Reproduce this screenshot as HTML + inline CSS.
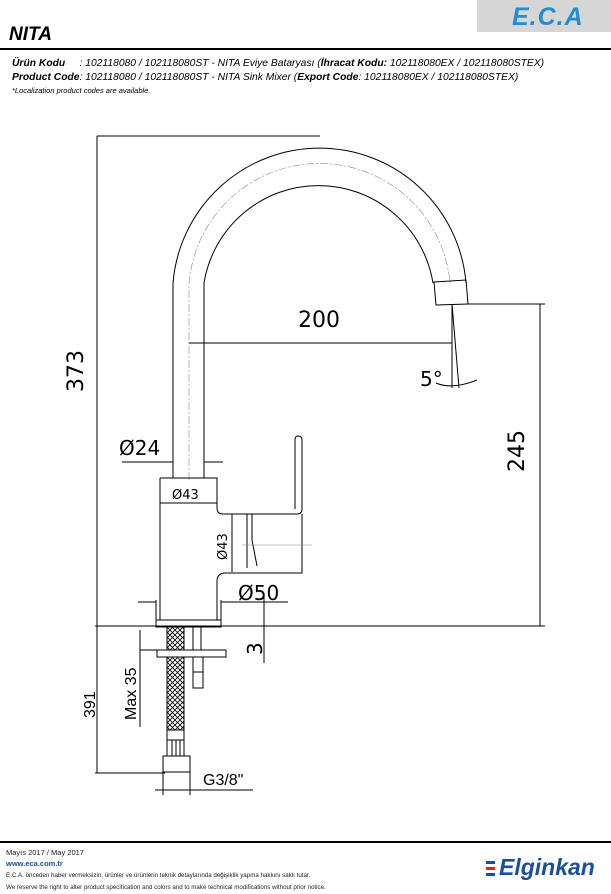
<!DOCTYPE html>
<html><head><meta charset="utf-8"><style>
body{margin:0;width:611px;height:894px;background:#fff;overflow:hidden;position:relative;font-family:"Liberation Sans",sans-serif}
.t{position:absolute;white-space:nowrap;font-style:italic}
</style></head><body>
<div style="position:absolute;left:477px;top:0;width:134px;height:32px;background:#d6d6d6"></div>
<div class="t" style="left:512px;top:3px;font-size:25px;font-weight:bold;color:#1e8fd0;letter-spacing:1px">E.C.A</div>
<div class="t" style="left:9px;top:24px;font-size:19px;font-weight:bold">NITA</div>
<div style="position:absolute;left:0;top:48px;width:611px;height:2px;background:#000"></div>
<div class="t" style="left:12px;top:58px;font-size:10.3px"><b>Ürün Kodu</b>&nbsp;&nbsp;&nbsp;&nbsp; : 102118080 / 102118080ST - NITA Eviye Bataryası (<b>İhracat Kodu:</b> 102118080EX / 102118080STEX)</div>
<div class="t" style="left:12px;top:72px;font-size:10.3px"><b>Product Code</b>: 102118080 / 102118080ST - NITA Sink Mixer (<b>Export Code</b>: 102118080EX / 102118080STEX)</div>
<div class="t" style="left:12px;top:86px;font-size:7.5px">*Localization product codes are available.</div>

<svg width="611" height="894" style="position:absolute;left:0;top:0" fill="none" stroke="#000" stroke-width="1">
<defs><pattern id="h" width="5" height="5" patternUnits="userSpaceOnUse"><path d="M0 0 L5 5 M5 0 L0 5" stroke="#000" stroke-width="0.8"/></pattern></defs>
<path d="M173 478 V283 A147 147 0 0 1 466 283"/>
<path d="M204 478 V283 A116 116 0 0 1 433 283"/>
<path d="M189 480 V283 A131 131 0 0 1 450 283" stroke="#888" stroke-width="0.6" stroke-dasharray="8 2 2 2"/>
<path d="M434 282 L466 280 L468 304 L436 305 Z"/>
<path d="M160 478 H217 V508 Q217 514 223 514 H297 Q302 514 302 509 V440 Q302 436 298 436 Q295 436 295 440 V509"/>
<path d="M160 478 V620 M217 620 V581 Q217 574 224 573 H302 V514"/>
<path d="M247 514 V568 M252 514 V540 L257 566"/>
<path d="M242 545 H312" stroke="#888" stroke-width="0.6"/>
<path d="M156 620 H221 V627 H156 Z"/>
<path d="M95 626 H545"/>
<rect x="167" y="627" width="17" height="103" fill="url(#h)"/>
<rect x="157" y="650" width="69" height="7" fill="#fff"/>
<path d="M193 627 V650 M201 627 V650"/>
<rect x="193" y="657" width="10" height="31"/>
<path d="M193 672 H203"/>
<rect x="167" y="730" width="17" height="10"/>
<rect x="167" y="740" width="17" height="16"/>
<path d="M172 740 V756 M176 740 V756 M180 740 V756"/>
<rect x="163" y="756" width="27" height="16"/>
<path d="M97 136 H320 M97 136 V626"/>
<path d="M466 304 H545 M540 304 V626"/>
<path d="M189 343 H452 M452 304 V388 M452 304 L459 388 M436 383 Q452 390 477 380"/>
<path d="M122 462 H173 M204 462 H223"/>
<path d="M160 503 H217"/>
<path d="M232 514 V572"/>
<path d="M138 602 H156 M221 602 H288 M156 600 V620 M221 600 V620"/>
<path d="M264 594 V626 M264 626 V663"/>
<path d="M140 630 V727 M140 650 H157"/>
<path d="M95 773 H165 M97 626 V773"/>
<path d="M155 790 H253 M163 772 V795 M190 772 V795"/>
</svg>
<svg width="611" height="894" style="position:absolute;left:0;top:0" font-family="DejaVu Sans, sans-serif">
<text x="298" y="327" font-size="22">200</text>
<text x="420" y="386" font-size="20">5°</text>
<text x="119" y="455" font-size="20">Ø24</text>
<text x="172" y="499" font-size="13">Ø43</text>
<text x="238" y="600" font-size="20">Ø50</text>
<text transform="translate(83,392) rotate(-90)" font-size="22">373</text>
<text transform="translate(524,472) rotate(-90)" font-size="22">245</text>
<text transform="translate(227,560) rotate(-90)" font-size="13">Ø43</text>
<text transform="translate(262,655) rotate(-90)" font-size="20">3</text>
<text transform="translate(95,718) rotate(-90)" font-size="16" font-family="Liberation Sans, sans-serif">391</text>
<text transform="translate(136,720) rotate(-90)" font-size="16" font-family="Liberation Sans, sans-serif">Max 35</text>
<text x="203" y="785" font-size="16" font-family="Liberation Sans, sans-serif">G3/8"</text>
</svg>

<div style="position:absolute;left:0;top:841px;width:611px;height:2px;background:#000"></div>
<div style="position:absolute;left:6px;top:847px;font-size:7.5px;line-height:11px;color:#222">Mayıs 2017 / May 2017<br><b style="color:#1a4f9b">www.eca.com.tr</b><br><span style="font-size:6.2px">E.C.A. önceden haber vermeksizin, ürünler ve ürünlerin teknik detaylarında değişiklik yapma hakkını saklı tutar.<br>We reserve the right to alter product specification and colors and to make technical modifications without prior notice.</span></div>
<div style="position:absolute;left:486px;top:861px;width:9px;height:3px;background:#1a4f9b"></div>
<div style="position:absolute;left:486px;top:867px;width:9px;height:3px;background:#d9252b"></div>
<div style="position:absolute;left:486px;top:873px;width:9px;height:3px;background:#1a4f9b"></div>
<div class="t" style="left:499px;top:854px;font-size:23px;font-weight:bold;color:#1a4f9b">Elginkan</div>
</body></html>
